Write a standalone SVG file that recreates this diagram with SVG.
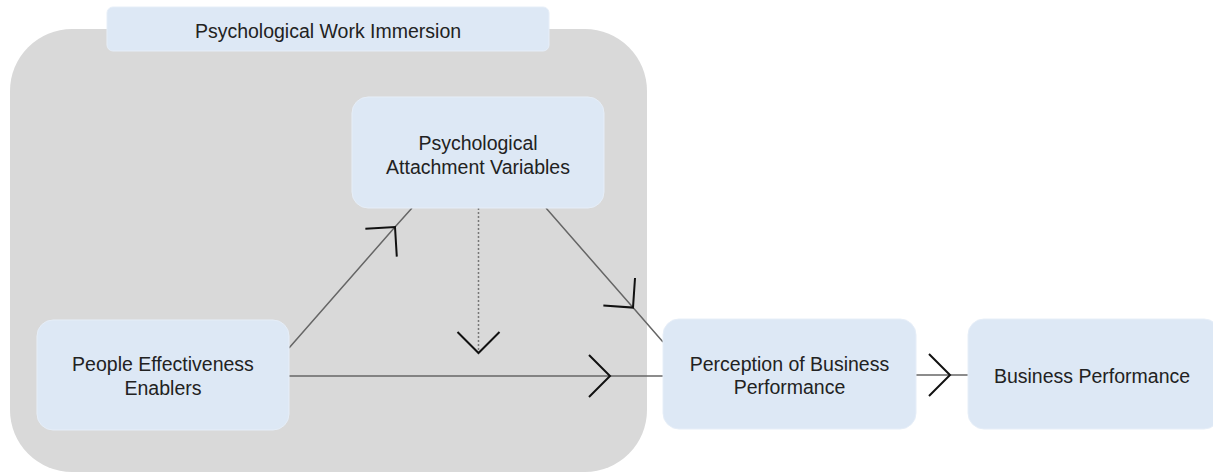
<svg xmlns="http://www.w3.org/2000/svg" width="1213" height="472" viewBox="0 0 1213 472">
<style>
.node rect{fill:#dde8f5;stroke:#e6eef8;stroke-width:1}
text{font-family:"Liberation Sans",Arial,sans-serif;font-size:19.5px;fill:#222;text-anchor:middle;dominant-baseline:central}
.conn{fill:none;stroke:#666;stroke-width:1.5}
.dot{stroke-dasharray:2 2;stroke:#777}
</style>
<defs>
<marker id="chev" markerUnits="userSpaceOnUse" viewBox="-25 -25 50 50" markerWidth="50" markerHeight="50" refX="0" refY="0" orient="auto" overflow="visible">
<path d="M-21,-21 L0,0 L-21,21" fill="none" stroke="#111" stroke-width="2"/>
</marker>
</defs>
<g id="container">
<rect x="10" y="29" width="637" height="443" rx="62" ry="62" fill="#d9d9d9"/>
</g>
<g id="title" class="node">
<rect x="107" y="7" width="442" height="44" rx="6"/>
<text x="328" y="31">Psychological Work Immersion</text>
</g>
<g id="connectors">
<path class="conn" d="M289,348 L395,227 L412,208" marker-mid="url(#chev)"/>
<path class="conn dot" d="M478.5,208 L478.5,353" marker-end="url(#chev)"/>
<path class="conn" d="M546,208 L633,307.6 L663,342" marker-mid="url(#chev)"/>
<path class="conn" d="M289,376 L610,376 L663,376" marker-mid="url(#chev)"/>
<path class="conn" d="M916,375 L950,375 L968,375" marker-mid="url(#chev)"/>
</g>
<g id="pav" class="node">
<rect x="352" y="97" width="252" height="111" rx="16"/>
<text x="478" y="143">Psychological</text>
<text x="478" y="167">Attachment Variables</text>
</g>
<g id="pee" class="node">
<rect x="37" y="320" width="252" height="110" rx="16"/>
<text x="163" y="364">People Effectiveness</text>
<text x="163" y="388">Enablers</text>
</g>
<g id="pbp" class="node">
<rect x="663" y="319" width="253" height="110" rx="16"/>
<text x="789.5" y="364">Perception of Business</text>
<text x="789.5" y="387">Performance</text>
</g>
<g id="bp" class="node">
<rect x="968" y="319" width="252" height="110" rx="16"/>
<text x="1092" y="376">Business Performance</text>
</g>
</svg>
